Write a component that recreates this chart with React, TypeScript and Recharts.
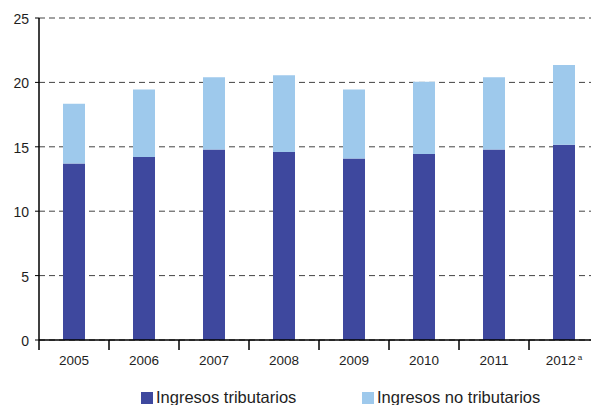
import React from 'react';
import { BarChart, Bar, XAxis, YAxis, CartesianGrid, Legend } from 'recharts';

// Datos (porcentajes)
const years = ['2005', '2006', '2007', '2008', '2009', '2010', '2011', '2012'];
const yearNotes = ['', '', '', '', '', '', '', 'a'];
const tributarios = [13.7, 14.2, 14.8, 14.6, 14.1, 14.45, 14.8, 15.15];
const noTributarios = [4.65, 5.25, 5.6, 5.95, 5.35, 5.6, 5.6, 6.2];
const yTicks = [0, 5, 10, 15, 20, 25];

const seriesNames = ['Ingresos tributarios', 'Ingresos no tributarios'];
const colors = ['#3e489e', '#9ec9ec'];

const data = years.map((year, i) => ({
  year,
  note: yearNotes[i],
  trib: tributarios[i],
  noTrib: noTributarios[i],
}));

const FONT = '"Liberation Sans", Arial, sans-serif';
const TEXT = '#1e1e1e';

// Tick personalizado: marca en el límite izquierdo de cada categoría
const YearTick = (props: any) => {
  const { x, y, payload, index } = props;
  const half = payload && typeof payload.offset === 'number' ? payload.offset : 35;
  const note = yearNotes[index] || '';
  return (
    <g>
      <line x1={x - half} x2={x - half} y1={y - 15} y2={y - 5} stroke="#000" strokeWidth={1.5} />
      <text x={x} y={y} dy="0.71em" textAnchor="middle" fontSize={13.5} fontFamily={FONT} fill={TEXT}>
        {payload.value}
        {note && (
          <tspan dx={2} dy={-5} fontSize={8}>
            {note}
          </tspan>
        )}
      </text>
    </g>
  );
};

const legendLeft = [141, 362];

const renderLegend = () => (
  <div style={{ position: 'relative', height: 20, fontFamily: FONT, fontSize: 16.5, color: TEXT }}>
    {seriesNames.map((name, i) => (
      <div key={name} style={{ position: 'absolute', left: legendLeft[i], top: 0, display: 'flex', whiteSpace: 'nowrap' }}>
        <span style={{ display: 'inline-block', width: 12, height: 12, background: colors[i], marginTop: 3.5, marginRight: 3 }} />
        <span>{name}</span>
      </div>
    ))}
  </div>
);

export default function App() {
  return (
    <div style={{ position: 'absolute', left: 0, top: 0, width: 591, height: 405, overflow: 'hidden', background: '#fff' }}>
      <BarChart
        width={600}
        height={405}
        data={data}
        margin={{ top: 18, right: 1, left: 0, bottom: 35 }}
        barSize={22}
      >
        <CartesianGrid vertical={false} stroke="#444" strokeDasharray="6 4" />
        <XAxis
          dataKey="year"
          height={30}
          tickSize={10}
          tickMargin={5}
          tickLine={false}
          axisLine={{ stroke: '#000', strokeWidth: 1.5 }}
          tick={<YearTick />}
          interval={0}
        />
        <YAxis
          width={39}
          domain={[0, 25]}
          ticks={yTicks}
          tickSize={4}
          tickMargin={6}
          axisLine={{ stroke: '#000', strokeWidth: 1.5 }}
          tickLine={{ stroke: '#000' }}
          tick={{ fill: TEXT, fontSize: 14, fontFamily: FONT, dy: 1 }}
        />
        <Legend
          layout="horizontal"
          verticalAlign="middle"
          align="center"
          content={renderLegend}
          wrapperStyle={{ top: 388, left: 0, width: 591 }}
        />
        <Bar dataKey="trib" stackId="a" fill={colors[0]} name={seriesNames[0]} isAnimationActive={false} />
        <Bar dataKey="noTrib" stackId="a" fill={colors[1]} name={seriesNames[1]} isAnimationActive={false} />
      </BarChart>
    </div>
  );
}
